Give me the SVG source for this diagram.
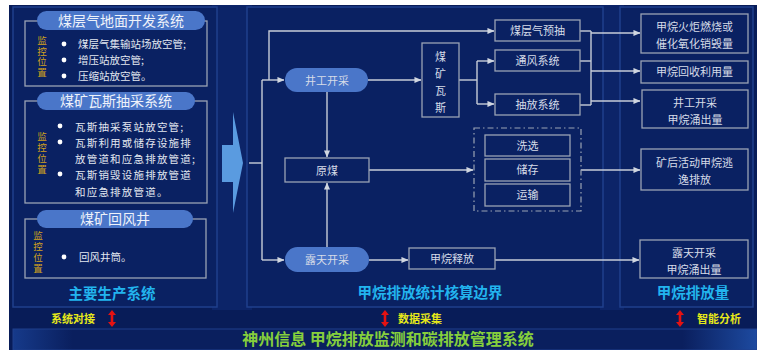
<svg xmlns="http://www.w3.org/2000/svg" width="757" height="350" viewBox="0 0 757 350">
<defs>
<style>
text{font-family:"Noto Sans CJK SC","Noto Sans",sans-serif;}
.panel{fill:#0a2162;stroke:#1f3f8c;stroke-width:1.5;}
.pill{fill:#4a76c9;}
.pt{fill:#eef2fa;font-size:14px;text-anchor:middle;}
.frame{fill:none;stroke:#9aa3b4;stroke-width:1.3;}
.mon{fill:#d0a21c;font-size:9.5px;writing-mode:vertical-rl;}
.bl{fill:#e2e7f0;font-size:10.5px;}
.dot{fill:#ffffff;}
.box{fill:none;stroke:#9aa3b4;stroke-width:1.3;}
.bt{fill:#d6dce8;font-size:11px;text-anchor:middle;}
.cap{fill:#22b4ee;font-size:14.5px;font-weight:bold;text-anchor:middle;}
.yl{fill:#e6e81a;font-size:11px;font-weight:bold;}
.ln{fill:none;stroke:#c7cdd8;stroke-width:1.4;}
.red{fill:#e41212;}
</style>
<marker id="ah" viewBox="0 0 8 8" refX="7.5" refY="4" markerWidth="7" markerHeight="7" markerUnits="userSpaceOnUse" orient="auto">
<path d="M0,0.5 L8,4 L0,7.5 Z" fill="#d0d6e0"/>
</marker>
<linearGradient id="bar" x1="0" y1="0" x2="1" y2="0">
<stop offset="0" stop-color="#163a8a"/>
<stop offset="0.08" stop-color="#0a1f5e"/>
<stop offset="0.9" stop-color="#0a1f5e"/>
<stop offset="1" stop-color="#1d4aa0"/>
</linearGradient>
</defs>
<rect x="0" y="0" width="757" height="350" fill="#ffffff"/>
<rect x="9" y="5" width="748" height="345" fill="#081c58"/>
<rect x="212" y="5" width="40" height="305" fill="#0c2468"/>
<rect x="600" y="5" width="24" height="305" fill="#0c2468"/>

<g id="panel-left">
<rect class="panel" x="13" y="7" width="204" height="300"/>
</g>
<g id="panel-mid">
<rect class="panel" x="247" y="7" width="356" height="300"/>
</g>
<g id="panel-right">
<rect class="panel" x="620" y="7" width="133" height="300"/>
</g>

<g id="sys1">
<rect class="frame" x="25" y="21" width="182" height="65"/>
<rect class="pill" x="37" y="11" width="168" height="19" rx="9.5"/>
<text class="pt" x="121" y="25.5">煤层气地面开发系统</text>
<text class="mon" x="42" y="36" letter-spacing="1">监控位置</text>
<circle class="dot" cx="64" cy="44" r="2.4"/>
<circle class="dot" cx="64" cy="60" r="2.4"/>
<circle class="dot" cx="64" cy="76" r="2.4"/>
<text class="bl" x="78" y="48">煤层气集输站场放空管;</text>
<text class="bl" x="78" y="64">增压站放空管;</text>
<text class="bl" x="78" y="80">压缩站放空管。</text>
</g>

<g id="sys2">
<rect class="frame" x="25" y="101" width="182" height="102"/>
<rect class="pill" x="37" y="92" width="158" height="18" rx="9"/>
<text class="pt" x="116" y="106">煤矿瓦斯抽采系统</text>
<text class="mon" x="42" y="132" letter-spacing="1.5">监控位置</text>
<circle class="dot" cx="60" cy="126" r="2.4"/>
<circle class="dot" cx="60" cy="142" r="2.4"/>
<circle class="dot" cx="60" cy="174" r="2.4"/>
<text class="bl" x="75" y="131" letter-spacing="1.2">瓦斯抽采泵站放空管;</text>
<text class="bl" x="75" y="147" letter-spacing="1.2">瓦斯利用或储存设施排</text>
<text class="bl" x="75" y="163" letter-spacing="1.2">放管道和应急排放管道;</text>
<text class="bl" x="75" y="179" letter-spacing="1.2">瓦斯销毁设施排放管道</text>
<text class="bl" x="75" y="196" letter-spacing="1.2">和应急排放管道。</text>
</g>

<g id="sys3">
<rect class="frame" x="25" y="219" width="181" height="59"/>
<rect class="pill" x="37" y="210" width="156" height="18" rx="9"/>
<text class="pt" x="115" y="224">煤矿回风井</text>
<text class="mon" x="38" y="231" letter-spacing="1.5">监控位置</text>
<circle class="dot" cx="64" cy="257" r="2.4"/>
<text class="bl" x="79" y="261">回风井筒。</text>
</g>
<text class="cap" x="112" y="299">主要生产系统</text>

<g id="big-arrow">
<path d="M222,145 H233 V112 L243,163 L233,213 V182 H222 Z" fill="#5a9be0"/>
</g>

<g id="connectors">
<path class="ln" d="M249,163 H262"/>
<path class="ln" d="M262,80 V260"/>
<path class="ln" d="M262,80 H284" marker-end="url(#ah)"/>
<path class="ln" d="M262,260 H284" marker-end="url(#ah)"/>
<path class="ln" d="M269,80 V31 H494" marker-end="url(#ah)"/>
<path class="ln" d="M327,92 V157" marker-end="url(#ah)"/>
<path class="ln" d="M327,247 V183" marker-end="url(#ah)"/>
<path class="ln" d="M368,80 H421" marker-end="url(#ah)"/>
<path class="ln" d="M369,170 H473" marker-end="url(#ah)"/>
<path class="ln" d="M459,80 H477"/>
<path class="ln" d="M477,61 V104"/>
<path class="ln" d="M477,61 H494" marker-end="url(#ah)"/>
<path class="ln" d="M477,104 H494" marker-end="url(#ah)"/>
<path class="ln" d="M580,31 H591"/>
<path class="ln" d="M580,61 H591"/>
<path class="ln" d="M580,105 H591"/>
<path class="ln" d="M591,31 V105"/>
<path class="ln" d="M591,33 H640" marker-end="url(#ah)"/>
<path class="ln" d="M591,71 H640" marker-end="url(#ah)"/>
<path class="ln" d="M591,101 H640" marker-end="url(#ah)"/>
<path class="ln" d="M581,170 H640" marker-end="url(#ah)"/>
<path class="ln" d="M369,260 H408" marker-end="url(#ah)"/>
<path class="ln" d="M495,260 H639" marker-end="url(#ah)"/>
</g>

<g id="n-jinggong">
<rect class="pill" x="285" y="68" width="83" height="24" rx="12"/>
<text class="bt" x="327" y="84.5" font-size="12.5">井工开采</text>
</g>
<g id="n-yuanmei">
<rect class="box" x="285" y="158" width="84" height="24"/>
<text class="bt" x="327" y="174.5" font-size="12">原煤</text>
</g>
<g id="n-lutian">
<rect class="pill" x="285" y="247" width="84" height="25" rx="12.5"/>
<text class="bt" x="327" y="264" font-size="12.5">露天开采</text>
</g>
<g id="n-meikuangwasi">
<rect class="box" x="422" y="43" width="37" height="74"/>
<text class="bt" x="440.5" y="61">煤</text>
<text class="bt" x="440.5" y="78">矿</text>
<text class="bt" x="440.5" y="95">瓦</text>
<text class="bt" x="440.5" y="112">斯</text>
</g>
<g id="n-yuchou">
<rect class="box" x="495" y="20" width="85" height="21"/>
<text class="bt" x="537.5" y="34.5">煤层气预抽</text>
</g>
<g id="n-tongfeng">
<rect class="box" x="495" y="50" width="85" height="21"/>
<text class="bt" x="537.5" y="64.5">通风系统</text>
</g>
<g id="n-choufang">
<rect class="box" x="495" y="94" width="85" height="21"/>
<text class="bt" x="537.5" y="108.5">抽放系统</text>
</g>
<g id="n-houhuodong">
<rect x="474" y="128" width="107" height="83" fill="none" stroke="#9aa3b4" stroke-width="1.2" stroke-dasharray="6,3,1.5,3"/>
<rect class="box" x="485" y="135" width="85" height="21"/>
<text class="bt" x="527.5" y="149.5">洗选</text>
<rect class="box" x="485" y="159" width="85" height="22"/>
<text class="bt" x="527.5" y="174">储存</text>
<rect class="box" x="485" y="184" width="85" height="22"/>
<text class="bt" x="527.5" y="199">运输</text>
</g>
<g id="n-shifang">
<rect class="box" x="409" y="248" width="86" height="21"/>
<text class="bt" x="452" y="262.5">甲烷释放</text>
</g>
<text class="cap" x="430" y="298">甲烷排放统计核算边界</text>

<g id="r-xiaohui">
<rect class="box" x="641" y="14" width="107" height="39"/>
<text class="bt" x="694.5" y="31">甲烷火炬燃烧或</text>
<text class="bt" x="694.5" y="48">催化氧化销毁量</text>
</g>
<g id="r-huishou">
<rect class="box" x="641" y="61" width="107" height="22"/>
<text class="bt" x="694.5" y="76">甲烷回收利用量</text>
</g>
<g id="r-jinggong">
<rect class="box" x="642" y="90" width="106" height="38"/>
<text class="bt" x="695" y="107">井工开采</text>
<text class="bt" x="695" y="124">甲烷涌出量</text>
</g>
<g id="r-kuanghou">
<rect class="box" x="641" y="149" width="107" height="41"/>
<text class="bt" x="694.5" y="167">矿后活动甲烷逃</text>
<text class="bt" x="694.5" y="184">逸排放</text>
</g>
<g id="r-lutian">
<rect class="box" x="640" y="240" width="108" height="38"/>
<text class="bt" x="694" y="257">露天开采</text>
<text class="bt" x="694" y="274">甲烷涌出量</text>
</g>
<text class="cap" x="693" y="298">甲烷排放量</text>

<g id="bottom-labels">
<text class="yl" x="51" y="323">系统对接</text>
<path class="red" d="M112,310 L116,315 H113.3 V322 H116 L112,327 L108,322 H110.7 V315 H108 Z"/>
<path class="red" d="M385,310 L389,315 H386.3 V322 H389 L385,327 L381,322 H383.7 V315 H381 Z"/>
<text class="yl" x="398" y="323">数据采集</text>
<path class="red" d="M680,310 L684,315 H681.3 V322 H684 L680,327 L676,322 H678.7 V315 H676 Z"/>
<text class="yl" x="697" y="323">智能分析</text>
</g>

<g id="bottom-bar">
<rect x="13" y="329" width="744" height="21" fill="url(#bar)" stroke="#1f3f8c" stroke-width="1"/>
<text x="388" y="345" fill="#86cf3c" font-size="16" font-weight="bold" text-anchor="middle">神州信息 甲烷排放监测和碳排放管理系统</text>
</g>
</svg>
